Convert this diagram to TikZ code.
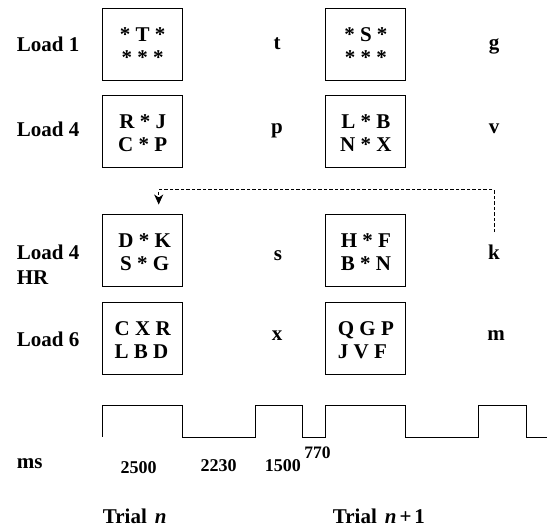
\documentclass[tikz,border=0pt]{standalone}
\usepackage{fontspec}
\setmainfont{Liberation Serif}
\usetikzlibrary{arrows.meta}

\tikzset{
  stim/.style={draw,line width=0.9pt,minimum width=80pt,minimum height=72pt,
    inner sep=0pt,align=center,font=\fontsize{21}{23.5}\bfseries\selectfont},
  lab/.style={anchor=base west,inner sep=0pt,font=\fontsize{21}{25}\bfseries\selectfont},
  probe/.style={anchor=base,inner sep=0pt,font=\fontsize{21}{25}\bfseries\selectfont},
  dur/.style={anchor=base,inner sep=0pt,font=\fontsize{18}{20}\bfseries\selectfont},
  cue/.style={line width=0.9pt,dash pattern=on 3.5pt off 2pt,-{Stealth[length=10pt,width=9pt,inset=3pt]}},
  wave/.style={line width=0.9pt},
}

\begin{document}
\begin{tikzpicture}[x=1pt,y=-1pt]
  \useasboundingbox (0,0) rectangle (547,529);
  % row labels
  \node[lab] (l1) at (16.7,52) {Load 1};
  \node[lab] (l2) at (16.7,137) {Load 4};
  \node[lab] (l3) at (16.7,260) {Load 4};
  \node[lab] (l3b) at (16.7,285) {HR};
  \node[lab] (l4) at (16.7,347) {Load 6};
  % memory sets, trial n
  \node[stim] (b1l) at (142.7,44) {\rule{0pt}{18pt}* T *\\* * *};
  \node[stim] (b2l) at (142.7,131) {\rule{0pt}{18pt}R * J\\C * P};
  \node[stim] (b3l) at (142.7,250) {\rule{0pt}{18pt}\hspace{4pt}D * K\\\hspace{4pt}S * G};
  \node[stim,align=left] (b4l) at (142.7,338) {\rule{0pt}{18pt}C X R\\L B D};
  % memory sets, trial n+1
  \node[stim] (b1r) at (365.9,44) {\rule{0pt}{18pt}* S *\\* * *};
  \node[stim] (b2r) at (365.9,131) {\rule{0pt}{18pt}L * B\\N * X};
  \node[stim] (b3r) at (365.9,250) {\rule{0pt}{18pt}H * F\\B * N};
  \node[stim,align=left] (b4r) at (365.9,338) {\rule{0pt}{18pt}Q G P\\J V F};
  % probes
  \node[probe] (p1l) at (277,50) {t};
  \node[probe] (p2l) at (277,134) {p};
  \node[probe] (p3l) at (278,261) {s};
  \node[probe] (p4l) at (277,341) {x};
  \node[probe] (p1r) at (494,50) {g};
  \node[probe] (p2r) at (494,134) {v};
  \node[probe] (p3r) at (494,260) {k};
  \node[probe] (p4r) at (496,341) {m};
  % high-recency cue
  \coordinate (kup) at ([yshift=13pt]p3r.north);
  \coordinate (hrin) at ([xshift=16pt,yshift=9pt]b3l.north);
  \draw[cue] (kup) -- ++(0,-42.3) -| (hrin);
  % timing
  \draw[wave] (102.6,437) |- (182.8,405.3) |- (255,437) |- (302.9,405.3)
    |- (325.9,437) |- (405.8,405.3) |- (478.4,437) |- (526.9,405.3) |- (547,437);
  \node[lab] (ms) at (16.7,469) {ms};
  \node[dur] (d1) at (138.7,473.5) {2500};
  \node[dur] (d2) at (218.7,472) {2230};
  \node[dur] (d3) at (282.9,472) {1500};
  \node[dur,font=\fontsize{17.5}{20}\bfseries\selectfont] (d4) at (317.5,458.5) {770};
  \node[lab] (tn) at (102.7,524) {Trial\hspace{8pt}\textit{n}};
  \node[lab] (tn1) at (332.7,524) {Trial\hspace{8pt}\textit{n}\hspace{3pt}+\hspace{3pt}1};
\end{tikzpicture}
\end{document}
